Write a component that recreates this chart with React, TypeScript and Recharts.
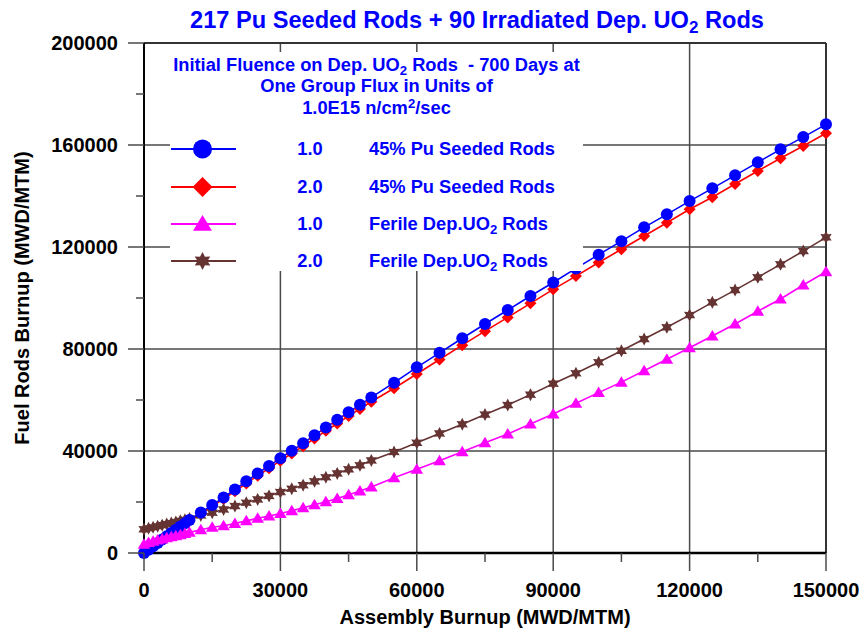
import React from "react";
import { LineChart, Line, XAxis, YAxis, ReferenceLine } from "recharts";

// assembly burnup (MWD/MTM) at which each curve was sampled
const burnupX = [
  0, 1000, 2000, 3000, 4000, 5000, 6000, 7000, 8000, 9000, 10000,
  12500, 15000, 17500, 20000, 22500, 25000, 27500, 30000, 32500, 35000, 37500, 40000, 42500, 45000, 47500, 50000,
  55000, 60000, 65000, 70000, 75000, 80000, 85000, 90000, 95000, 100000,
  105000, 110000, 115000, 120000, 125000, 130000, 135000, 140000, 145000, 150000,
];

// 1.0 - 45% Pu seeded rods
const puSeeded10 = [
  0, 1300, 2650, 3950, 5250, 6550, 7800, 9100, 10400, 11650, 12900,
  15900, 18800, 21800, 24900, 28100, 31200, 34100, 37200, 40100, 43000, 46200, 49200, 52300, 55200, 58100, 61000,
  66800, 72800, 78500, 84200, 89800, 95300, 100800, 106100, 111600, 117000,
  122300, 127700, 132800, 138000, 143000, 148100, 153200, 158300, 163100, 168100,
];

// 2.0 - 45% Pu seeded rods
const puSeeded20 = [
  0, 1250, 2550, 3800, 5100, 6350, 7600, 8850, 10100, 11350, 12600,
  15500, 18300, 21200, 24200, 27300, 30300, 33200, 36200, 39000, 41900, 44900, 47900, 50800, 53700, 56500, 59300,
  64600, 70200, 75900, 81500, 87000, 92400, 97900, 103400, 108600, 113900,
  119100, 124300, 129500, 134800, 139500, 144700, 149800, 154800, 159600, 164600,
];

// 1.0 - fertile dep. UO2 rods
const ferile10 = [
  3400, 4100, 4600, 5100, 5500, 5950, 6350, 6800, 7200, 7650, 8100,
  9100, 10100, 10700, 11600, 12600, 13600, 14500, 15500, 16600, 17700, 18900, 20100, 21400, 22800, 24300, 25900,
  29500, 32800, 36200, 39700, 43200, 46700, 50600, 54500, 58700, 62900,
  67000, 71500, 76000, 80500, 85100, 89800, 94800, 99600, 105100, 110300,
];

// 2.0 - fertile dep. UO2 rods
const ferile20 = [
  9300, 9700, 10100, 10500, 10900, 11350, 11750, 12150, 12600, 13000, 13500,
  14700, 15800, 17100, 18400, 19700, 21000, 22400, 23900, 25200, 26600, 28100, 29700, 31200, 32800, 34400, 36300,
  39600, 43200, 46900, 50500, 54300, 58000, 62100, 66400, 70500, 74800,
  79300, 83900, 88500, 93300, 98300, 103100, 108100, 113200, 118400, 123800,
];

const xMajorTicks = [0, 30000, 60000, 90000, 120000, 150000];
const xMinorTicks = [15000, 45000, 75000, 105000, 135000];
const yMajorTicks = [0, 40000, 80000, 120000, 160000, 200000];
const yMinorTicks = [20000, 60000, 100000, 140000, 180000];

const data = burnupX.map((x, i) => ({
  x,
  pu10: puSeeded10[i],
  pu20: puSeeded20[i],
  fe10: ferile10[i],
  fe20: ferile20[i],
}));

const FONT = "'Liberation Sans', Arial, Helvetica, sans-serif";
const BLUE = "#0000ff";
const RED = "#ff0000";
const MAGENTA = "#ff00ff";
const BROWN = "#663333";
const GRID = "#4a4a4a";

const subStyle: React.CSSProperties = { fontSize: "0.72em", verticalAlign: "-0.3em", lineHeight: 0 };
const supStyle: React.CSSProperties = { fontSize: "0.72em", verticalAlign: "0.45em", lineHeight: 0 };

const starPoints = (cx: number, cy: number, R: number, r: number) => {
  const pts: string[] = [];
  for (let k = 0; k < 12; k++) {
    const a = ((-90 + k * 30) * Math.PI) / 180;
    const rad = k % 2 === 0 ? R : r;
    pts.push(`${cx + rad * Math.cos(a)},${cy + rad * Math.sin(a)}`);
  }
  return pts.join(" ");
};

type Shape = "circle" | "diamond" | "triangle" | "star";

function Marker({ shape, cx, cy, size, color }: { shape: Shape; cx: number; cy: number; size: number; color: string }) {
  if (shape === "circle") return <circle cx={cx} cy={cy} r={size} fill={color} />;
  if (shape === "diamond")
    return (
      <polygon
        points={`${cx},${cy - size} ${cx + size},${cy} ${cx},${cy + size} ${cx - size},${cy}`}
        fill={color}
      />
    );
  if (shape === "triangle")
    return (
      <polygon
        points={`${cx},${cy - size} ${cx + size * 1.05},${cy + size * 0.75} ${cx - size * 1.05},${cy + size * 0.75}`}
        fill={color}
      />
    );
  return <polygon points={starPoints(cx, cy, size, size * 0.55)} fill={color} />;
}

const dotFor = (shape: Shape, color: string, size: number) => (p: any) => {
  if (p.cx == null || p.cy == null) return <g key={`n-${p.index}`} />;
  return (
    <g key={`${shape}-${p.index}`}>
      <Marker shape={shape} cx={p.cx} cy={p.cy} size={size} color={color} />
    </g>
  );
};

function XTick(props: any) {
  const { x, y, payload } = props;
  const major = xMajorTicks.includes(payload.value);
  return (
    <g>
      <line x1={x} x2={x} y1={y} y2={y + (major ? 18 : 9)} stroke={GRID} strokeWidth={1.5} />
      {major && (
        <text x={x} y={y + 44} textAnchor="middle" fontFamily={FONT} fontWeight="bold" fontSize={20} fill="#000">
          {payload.value}
        </text>
      )}
    </g>
  );
}

function YTick(props: any) {
  const { x, y, payload } = props;
  const major = yMajorTicks.includes(payload.value);
  return (
    <g>
      <line x1={x - (major ? 16 : 8)} x2={x} y1={y} y2={y} stroke={GRID} strokeWidth={1.5} />
      {major && (
        <text x={x - 26} y={y + 7} textAnchor="end" fontFamily={FONT} fontWeight="bold" fontSize={20} fill="#000">
          {payload.value}
        </text>
      )}
    </g>
  );
}

const legendRows: { shape: Shape; color: string; flux: string; label: React.ReactNode; size: number }[] = [
  { shape: "circle", color: BLUE, flux: "1.0", label: "45% Pu Seeded Rods", size: 9.5 },
  { shape: "diamond", color: RED, flux: "2.0", label: "45% Pu Seeded Rods", size: 10 },
  {
    shape: "triangle",
    color: MAGENTA,
    flux: "1.0",
    label: (
      <>
        Ferile Dep.UO<sub style={subStyle}>2</sub> Rods
      </>
    ),
    size: 9,
  },
  {
    shape: "star",
    color: BROWN,
    flux: "2.0",
    label: (
      <>
        Ferile Dep.UO<sub style={subStyle}>2</sub> Rods
      </>
    ),
    size: 9,
  },
];

function LegendBox() {
  const textStyle: React.CSSProperties = {
    position: "absolute",
    fontFamily: FONT,
    fontWeight: "bold",
    fontSize: 18.3,
    lineHeight: "18px",
    color: BLUE,
    whiteSpace: "nowrap",
  };
  const rowCenters = [97.3, 134.7, 172, 209.3];
  return (
    <div style={{ position: "absolute", left: 170, top: 52, width: 413, height: 219, background: "#fff" }}>
      <div style={{ ...textStyle, left: 0, width: 413, textAlign: "center", top: 4 }}>
        Initial Fluence on Dep. UO<sub style={subStyle}>2</sub> Rods&nbsp; - 700 Days at
      </div>
      <div style={{ ...textStyle, left: 0, width: 413, textAlign: "center", top: 25 }}>
        One Group Flux in Units of
      </div>
      <div style={{ ...textStyle, left: 0, width: 413, textAlign: "center", top: 47 }}>
        1.0E15 n/cm<sup style={supStyle}>2</sup>/sec
      </div>
      {legendRows.map((r, i) => (
        <React.Fragment key={i}>
          <svg
            width={68}
            height={26}
            style={{ position: "absolute", left: 0, top: rowCenters[i] - 13, overflow: "visible" }}
          >
            <line x1={1} x2={66} y1={13} y2={13} stroke={r.color} strokeWidth={2} />
            <Marker shape={r.shape} cx={32.5} cy={13} size={r.size} color={r.color} />
          </svg>
          <div style={{ ...textStyle, left: 110, width: 60, textAlign: "center", top: rowCenters[i] - 9 }}>
            {r.flux}
          </div>
          <div style={{ ...textStyle, left: 199, top: rowCenters[i] - 9 }}>{r.label}</div>
        </React.Fragment>
      ))}
    </div>
  );
}

export default function App() {
  return (
    <div style={{ position: "absolute", left: 0, top: 0, width: 861, height: 633, background: "#fff" }}>
      <LineChart width={861} height={633} data={data} margin={{ top: 43, right: 35, left: 0, bottom: 0 }}>
        <XAxis
          dataKey="x"
          type="number"
          domain={[0, 150000]}
          ticks={[...xMajorTicks, ...xMinorTicks].sort((a, b) => a - b)}
          interval={0}
          tickSize={0}
          tickMargin={0}
          tickLine={false}
          axisLine={{ stroke: "#000", strokeWidth: 2.5 }}
          height={80}
          tick={<XTick />}
          label={{
            value: "Assembly Burnup (MWD/MTM)",
            position: "insideBottom",
            offset: 9,
            style: { fontFamily: FONT, fontWeight: "bold", fontSize: 20, fill: "#000" },
          }}
        />
        <YAxis
          type="number"
          domain={[0, 200000]}
          ticks={[...yMajorTicks, ...yMinorTicks].sort((a, b) => a - b)}
          interval={0}
          tickSize={0}
          tickMargin={0}
          tickLine={false}
          axisLine={{ stroke: "#000", strokeWidth: 2 }}
          width={144}
          tick={<YTick />}
          label={{
            content: (p: any) => {
              const vb = p.viewBox || { x: 0, y: 43, width: 144, height: 510 };
              const cx = vb.x + 22;
              const cy = vb.y + vb.height / 2;
              return (
                <text
                  x={cx}
                  y={cy}
                  transform={`rotate(-90 ${cx} ${cy})`}
                  textAnchor="middle"
                  dominantBaseline="central"
                  fontFamily={FONT}
                  fontWeight="bold"
                  fontSize={20}
                  fill="#000"
                >
                  Fuel Rods Burnup (MWD/MTM)
                </text>
              );
            },
          }}
        />
        {xMajorTicks.slice(1, -1).map((v) => (
          <ReferenceLine key={`vx-${v}`} x={v} stroke={GRID} strokeWidth={1.5} />
        ))}
        {yMajorTicks.slice(1, -1).map((v) => (
          <ReferenceLine key={`hy-${v}`} y={v} stroke={GRID} strokeWidth={1.5} />
        ))}
        <ReferenceLine x={150000} stroke="#333" strokeWidth={2} />
        <ReferenceLine y={200000} stroke="#333" strokeWidth={2} />
        <Line
          type="linear"
          dataKey="pu20"
          stroke={RED}
          strokeWidth={1.6}
          dot={dotFor("diamond", RED, 6)}
          activeDot={false}
          isAnimationActive={false}
        />
        <Line
          type="linear"
          dataKey="fe20"
          stroke={BROWN}
          strokeWidth={1.6}
          dot={dotFor("star", BROWN, 6.5)}
          activeDot={false}
          isAnimationActive={false}
        />
        <Line
          type="linear"
          dataKey="pu10"
          stroke={BLUE}
          strokeWidth={1.6}
          dot={dotFor("circle", BLUE, 6)}
          activeDot={false}
          isAnimationActive={false}
        />
        <Line
          type="linear"
          dataKey="fe10"
          stroke={MAGENTA}
          strokeWidth={1.6}
          dot={dotFor("triangle", MAGENTA, 6)}
          activeDot={false}
          isAnimationActive={false}
        />
      </LineChart>
      <div
        style={{
          position: "absolute",
          left: 100,
          top: 8.5,
          width: 754,
          textAlign: "center",
          fontFamily: FONT,
          fontWeight: "bold",
          fontSize: 23.6,
          lineHeight: "23px",
          color: BLUE,
          whiteSpace: "nowrap",
        }}
      >
        217 Pu Seeded Rods + 90 Irradiated Dep. UO<sub style={subStyle}>2</sub> Rods
      </div>
      <LegendBox />
    </div>
  );
}
